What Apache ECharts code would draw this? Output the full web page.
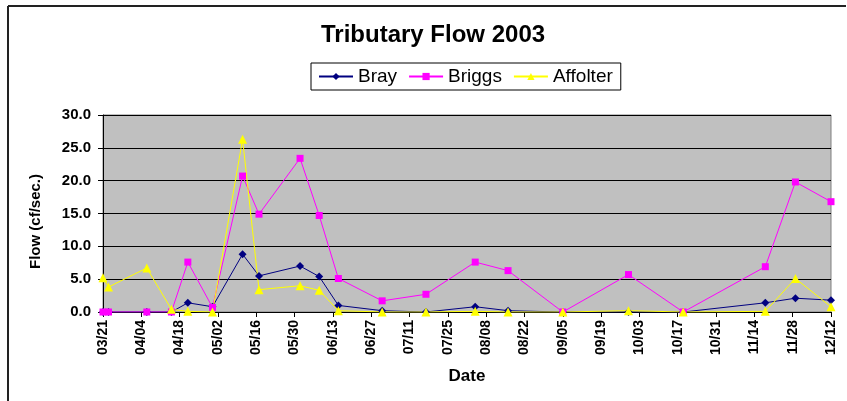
<!DOCTYPE html>
<html>
<head>
<meta charset="utf-8">
<script src="https://cdn.jsdelivr.net/npm/echarts@6/dist/echarts.min.js"></script>
<style>
  html, body { margin: 0; padding: 0; background: #fff; }
  #chart { width: 847px; height: 401px; }
</style>
</head>
<body>
<div id="chart"></div>
<script>
// sample dates (2003) and flows
var dates = ['03/21', '03/23', '04/06', '04/15', '04/21', '04/30', '05/11', '05/17',
  '06/01', '06/08', '06/15', '07/01', '07/17', '08/04', '08/16', '09/05',
  '09/29', '10/19', '11/18', '11/29', '12/12'];
var bray = [0, 0, 0, 0, 1.4, 0.8, 8.8, 5.5, 7.0, 5.4, 1.0, 0.2, 0, 0.8, 0.2, 0,
  0, 0, 1.4, 2.1, 1.8];
var briggs = [0, 0, 0, 0, 7.6, 0.7, 20.7, 14.9, 23.4, 14.7, 5.1, 1.7, 2.7, 7.6, 6.3, 0,
  5.7, 0, 6.9, 19.8, 16.8];
var affolter = [5.2, 3.8, 6.7, 0.4, 0.1, 0, 26.3, 3.4, 4.0, 3.3, 0.2, 0, 0, 0.1, 0, 0,
  0.2, 0, 0.1, 5.1, 0.8];

var startDate = Date.UTC(2003, 2, 21);
var DAY = 86400000;
var FONT = 'Arial, "Liberation Sans", sans-serif';

function dayOf(md) {
  var p = md.split('/');
  return Math.round((Date.UTC(2003, +p[0] - 1, +p[1]) - startDate) / DAY);
}
function pairs(vals) {
  return vals.map(function (v, i) { return [dayOf(dates[i]), v]; });
}
function mmdd(d) {
  var t = new Date(startDate + d * DAY);
  var m = t.getUTCMonth() + 1, dd = t.getUTCDate();
  return (m < 10 ? '0' : '') + m + '/' + (dd < 10 ? '0' : '') + dd;
}

var chart = echarts.init(document.getElementById('chart'));
chart.setOption({
  animation: false,
  backgroundColor: '#fff',
  title: {
    text: 'Tributary Flow 2003',
    left: 316, top: 18,
    textStyle: { fontFamily: FONT, fontSize: 24, fontWeight: 'bold', color: '#000' }
  },
  legend: {
    left: 311, top: 63,
    padding: [4, 8, 4, 7],
    itemGap: 11,
    itemWidth: 34, itemHeight: 9,
    borderColor: '#000', borderWidth: 1,
    textStyle: { fontFamily: FONT, fontSize: 19, color: '#000' },
    data: ['Bray', 'Briggs', 'Affolter']
  },
  graphic: [
    { type: 'line', shape: { x1: 8, y1: 6, x2: 846, y2: 6 }, style: { stroke: '#222', lineWidth: 2 } },
    { type: 'line', shape: { x1: 8, y1: 6, x2: 8, y2: 401 }, style: { stroke: '#222', lineWidth: 2 } }
  ],
  grid: {
    left: 103, right: 16, top: 115, bottom: 89,
    show: true, backgroundColor: '#C0C0C0', borderColor: '#808080', borderWidth: 1
  },
  xAxis: {
    type: 'value',
    min: 0, max: 266, interval: 14,
    name: 'Date', nameLocation: 'middle', nameGap: 56,
    nameTextStyle: { fontFamily: FONT, fontSize: 17, fontWeight: 'bold', color: '#000' },
    axisLine: { show: true, lineStyle: { color: '#000', width: 1 } },
    axisTick: { show: true, length: 5, lineStyle: { color: '#000' } },
    splitLine: { show: false },
    axisLabel: {
      rotate: 90, margin: 8,
      fontFamily: FONT, fontSize: 14, fontWeight: 'bold', color: '#000',
      formatter: function (v) { return mmdd(v); }
    }
  },
  yAxis: {
    type: 'value',
    min: 0, max: 30, interval: 5,
    name: 'Flow (cf/sec.)', nameLocation: 'middle', nameGap: 60,
    nameTextStyle: { fontFamily: FONT, fontSize: 15, fontWeight: 'bold', color: '#000',
      padding: [0, 16, 0, 0] },
    axisLine: { show: true, lineStyle: { color: '#000', width: 1 } },
    axisTick: { show: true, length: 5, lineStyle: { color: '#000' } },
    splitLine: { show: true, lineStyle: { color: '#000', width: 1 } },
    axisLabel: {
      margin: 12,
      fontFamily: FONT, fontSize: 15, fontWeight: 'bold', color: '#000',
      formatter: function (v) { return v.toFixed(1); }
    }
  },
  series: [
    {
      name: 'Bray', type: 'line', data: pairs(bray),
      symbol: 'diamond', symbolSize: 8,
      itemStyle: { color: '#000080' },
      lineStyle: { color: '#000080', width: 1 }
    },
    {
      name: 'Briggs', type: 'line', data: pairs(briggs),
      symbol: 'rect', symbolSize: 7,
      itemStyle: { color: '#FF00FF' },
      lineStyle: { color: '#FF00FF', width: 1 }
    },
    {
      name: 'Affolter', type: 'line', data: pairs(affolter),
      symbol: 'triangle', symbolSize: 9,
      itemStyle: { color: '#FFFF00' },
      lineStyle: { color: '#FFFF00', width: 1 }
    }
  ]
});
</script>
</body>
</html>
